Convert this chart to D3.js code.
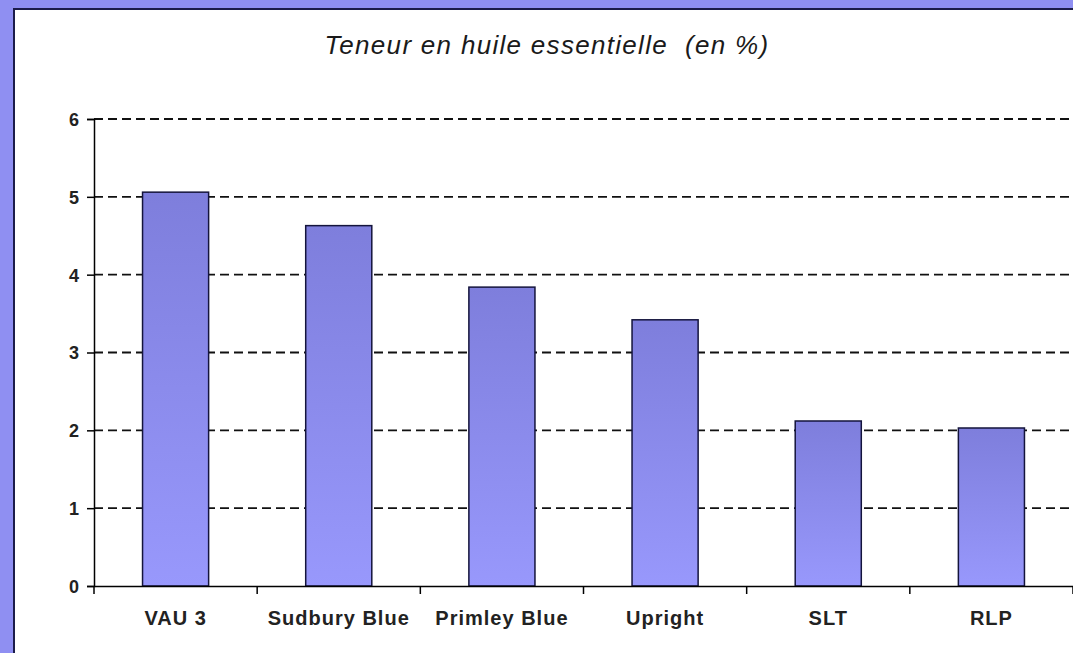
<!DOCTYPE html>
<html>
<head>
<meta charset="utf-8">
<script src="https://cdn.jsdelivr.net/npm/d3@7"></script>
<style>
body { margin: 0; padding: 0; background: #8f8ff2; overflow: hidden; }
svg { display: block; }
</style>
</head>
<body>
<div id="chart"></div>
<script>
// data
var varietes = ["VAU 3", "Sudbury Blue", "Primley Blue", "Upright", "SLT", "RLP"];
var teneur = [5.06, 4.63, 3.84, 3.42, 2.12, 2.03];
var yTicks = [0, 1, 2, 3, 4, 5, 6];
var titre = "Teneur en huile essentielle  (en %)";

var width = 1073, height = 653;
var fontFam = "Arial, 'Liberation Sans', sans-serif";
var svg = d3.select("#chart").append("svg")
	.attr("width", width)
	.attr("height", height);

// gradient for bars
var defs = svg.append("defs");
var grad = defs.append("linearGradient")
	.attr("id", "barGrad")
	.attr("x1", 0).attr("y1", 0).attr("x2", 0).attr("y2", 1);
grad.append("stop").attr("offset", "0%").attr("stop-color", "#7e7edc");
grad.append("stop").attr("offset", "100%").attr("stop-color", "#9898fc");

// white panel
svg.append("rect")
	.attr("x", 14)
	.attr("y", 9)
	.attr("width", width)
	.attr("height", height)
	.attr("fill", "#ffffff")
	.attr("stroke", "#1c1c4a")
	.attr("stroke-width", 2);

var x = d3.scaleBand()
	.domain(varietes)
	.range([94, 1073])
	.paddingInner(0.595)
	.paddingOuter(0.2975);

var y = d3.scaleLinear()
	.domain([0, 6])
	.range([586, 119]);

// dashed grid lines
svg.selectAll(".grid")
	.data(yTicks.filter(function(d){ return d > 0; }))
	.enter()
	.append("line")
		.attr("class", "grid")
		.attr("x1", 94)
		.attr("x2", 1073)
		.attr("y1", function(d){ return y(d); })
		.attr("y2", function(d){ return y(d); })
		.attr("stroke", "#111")
		.attr("stroke-width", 1.9)
		.attr("stroke-dasharray", "9,5");

// bars
svg.selectAll(".bar")
	.data(teneur)
	.enter()
	.append("rect")
		.attr("class", "bar")
		.attr("x", function(d, i){ return x(varietes[i]); })
		.attr("y", function(d){ return y(d); })
		.attr("width", x.bandwidth())
		.attr("height", function(d){ return y(0) - y(d); })
		.attr("fill", "url(#barGrad)")
		.attr("stroke", "#14143c")
		.attr("stroke-width", 1.5);

// y axis
var yAxis = d3.axisLeft(y)
	.tickValues(yTicks)
	.tickFormat(d3.format("d"))
	.tickSize(7)
	.tickPadding(8);
var gy = svg.append("g")
	.attr("transform", "translate(94,0)")
	.call(yAxis);
gy.select(".domain").attr("stroke", "#000").attr("stroke-width", 1.5);
gy.selectAll(".tick line").attr("stroke", "#000").attr("stroke-width", 1.5);
gy.selectAll(".tick text")
	.attr("dy", "0.36em")
	.style("font-family", fontFam)
	.style("font-size", "18px")
	.style("font-weight", "bold")
	.style("fill", "#222");

// x axis: ticks between categories
var xAxis = d3.axisBottom(x).tickSize(0).tickPadding(25);
var gx = svg.append("g")
	.attr("transform", "translate(0,586)")
	.call(xAxis);
gx.select(".domain").attr("stroke", "#000").attr("stroke-width", 1.5);
gx.selectAll(".tick text")
	.attr("dy", "0.71em")
	.style("font-family", fontFam)
	.style("font-size", "20px")
	.style("font-weight", "bold")
	.style("letter-spacing", "1px")
	.style("fill", "#222");

var bounds = x.domain().map(function(d){ return x(d) - x.step() * x.paddingInner() / 2; });
bounds.push(1073);
gx.selectAll(".sep")
	.data(bounds)
	.enter()
	.append("line")
		.attr("class", "sep")
		.attr("x1", function(d){ return d; })
		.attr("x2", function(d){ return d; })
		.attr("y1", 0)
		.attr("y2", 8)
		.attr("stroke", "#000")
		.attr("stroke-width", 1.5);

// title
svg.append("text")
	.attr("x", 547)
	.attr("y", 54)
	.attr("text-anchor", "middle")
	.attr("xml:space", "preserve")
	.style("white-space", "pre")
	.style("font-family", fontFam)
	.style("font-style", "italic")
	.style("font-size", "26px")
	.style("letter-spacing", "1.3px")
	.style("fill", "#1a1a1a")
	.text(titre);
</script>
</body>
</html>
